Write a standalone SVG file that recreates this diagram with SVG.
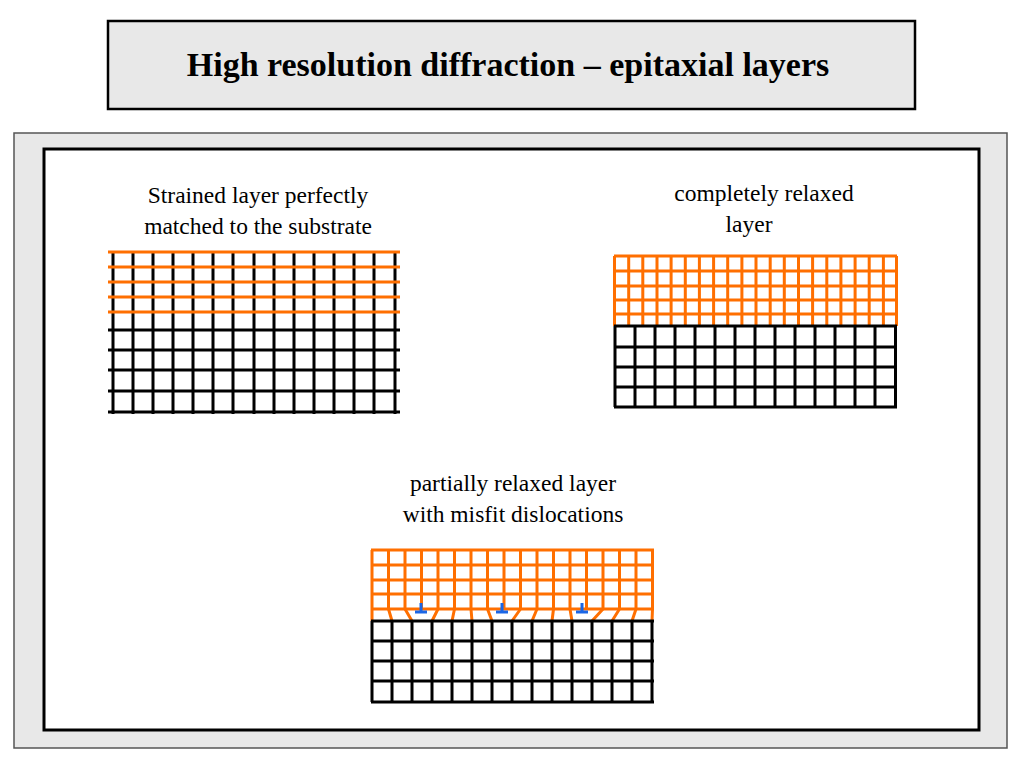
<svg xmlns="http://www.w3.org/2000/svg" width="1024" height="768" viewBox="0 0 1024 768">
<style>
text{font-family:"Liberation Serif","Times New Roman",serif;fill:#000}
.lb{font-size:23.5px;text-anchor:middle}
.o{stroke:#ff6f00;stroke-width:3;fill:none}
.k{stroke:#000;stroke-width:3;fill:none}
.b{stroke:#1a66e6;stroke-width:3;fill:none}
</style>
<rect x="0" y="0" width="1024" height="768" fill="#fff"/>
<g id="title"><rect x="108" y="21" width="807" height="88" fill="#e8e8e8" stroke="#000" stroke-width="2.5"/>
<text x="508" y="76" font-size="34" font-weight="bold" text-anchor="middle">High resolution diffraction – epitaxial layers</text></g>
<rect x="14" y="133" width="993" height="615" fill="#e8e8e8" stroke="#555" stroke-width="1.5"/>
<rect x="44" y="149" width="935" height="581" fill="#fff" stroke="#000" stroke-width="3"/>
<g id="strained">
<text class="lb" x="258" y="203">Strained layer perfectly</text>
<text class="lb" x="258" y="234">matched to the substrate</text>
<path class="k" d="M113 252V414M133 252V414M153 252V414M173 252V414M193 252V414M213 252V414M233 252V414M254 252V414M274 252V414M294 252V414M314 252V414M334 252V414M354 252V414M374 252V414M395 252V414"/>
<path class="k" d="M108 330H400M108 350H400M108 370H400M108 391H400M108 412H400"/>
<path class="o" d="M108 252H400M108 267H400M108 282H400M108 297H400M108 312H400"/>
</g>
<g id="relaxed">
<text class="lb" x="764" y="201">completely relaxed</text>
<text class="lb" x="749" y="232">layer</text>
<path class="o" d="M614 256H897M614 271H897M614 286H897M614 300H897M614 314H897M614.5 256V326M628.7 256V326M642.8 256V326M657 256V326M671.1 256V326M685.3 256V326M699.4 256V326M713.6 256V326M727.7 256V326M741.9 256V326M756 256V326M770.2 256V326M784.3 256V326M798.5 256V326M812.6 256V326M826.8 256V326M840.9 256V326M855.1 256V326M869.2 256V326M883.4 256V326M896.5 256V326"/>
<path class="k" d="M614 326H897M614 347H897M614 367H897M614 387H897M614 407H897M615 326V407M635 326V407M655 326V407M675 326V407M695 326V407M715 326V407M735 326V407M755 326V407M775 326V407M795 326V407M815 326V407M835 326V407M855 326V407M875 326V407M895.5 326V407"/>
</g>
<g id="partial">
<text class="lb" x="513" y="491">partially relaxed layer</text>
<text class="lb" x="513" y="522">with misfit dislocations</text>
<path class="o" d="M371 550H654M371 565H654M371 580H654M371 594H654M371 609H654M372 550V609M388.5 550V609M405 550V609M421.5 550V609M438 550V609M454.5 550V609M471 550V609M487.5 550V609M504 550V609M520.5 550V609M537 550V609M553.5 550V609M570 550V609M586.5 550V609M603 550V609M619.5 550V609M636 550V609M652.5 550V609"/>
<path class="o" d="M372 609L372 621M388.5 609L392 621M405 609L412 621M438 609L432 621M454.5 609L452 621M471 609L472 621M487.5 609L492 621M520.5 609L512 621M537 609L532 621M553.5 609L552 621M570 609L572 621M603 609L592 621M619.5 609L612 621M636 609L632 621M652.5 609L652 621"/>
<path class="k" d="M371 621H654M371 641H654M371 661H654M371 681H654M371 702H654M372 621V702M392 621V702M412 621V702M432 621V702M452 621V702M472 621V702M492 621V702M512 621V702M532 621V702M552 621V702M572 621V702M592 621V702M612 621V702M632 621V702M652 621V702"/>
<path class="b" d="M421 603V611M415 612H427M502 603V611M496 612H508M582 603V611M576 612H588"/>
</g>
</svg>
